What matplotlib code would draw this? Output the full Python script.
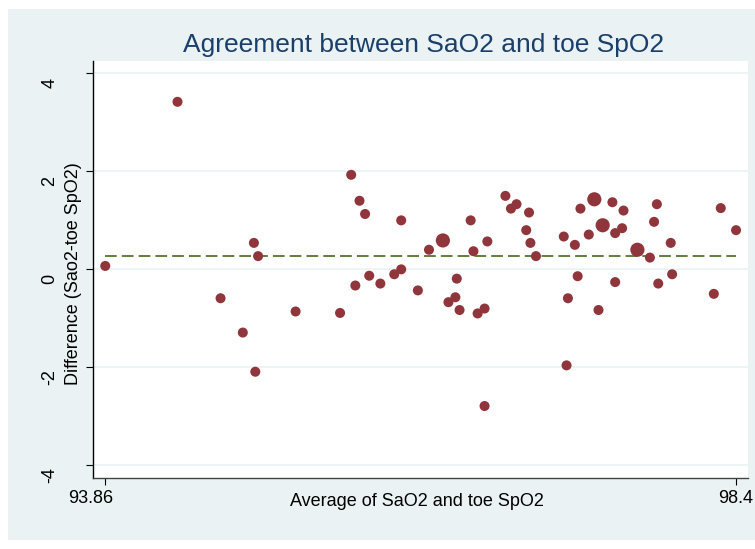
import matplotlib
matplotlib.use("Agg")
import matplotlib.pyplot as plt
import matplotlib.transforms as mtransforms
from matplotlib.patches import Rectangle

# Bland-Altman style: average vs difference, marker weight = number of obs
avg = [93.86, 94.38, 94.69, 94.85, 94.93, 94.94, 94.96, 95.23, 95.55, 95.63,
       95.66, 95.69, 95.73, 95.76, 95.84, 95.94, 95.99, 95.99, 96.11, 96.19,
       96.29, 96.33, 96.38, 96.39, 96.41, 96.49, 96.51, 96.54, 96.59, 96.59,
       96.61, 96.74, 96.78, 96.82, 96.89, 96.91, 96.92, 96.96, 97.16, 97.18,
       97.19, 97.24, 97.26, 97.28, 97.34, 97.38, 97.41, 97.44, 97.51, 97.53,
       97.53, 97.58, 97.59, 97.69, 97.78, 97.81, 97.83, 97.84, 97.93, 97.94,
       98.24, 98.29, 98.40]
diff = [0.07, 3.42, -0.59, -1.29, 0.54, -2.09, 0.27, -0.86, -0.89, 1.93,
        -0.33, 1.40, 1.13, -0.13, -0.29, -0.10, 0.00, 1.00, -0.43, 0.40,
        0.59, -0.67, -0.57, -0.19, -0.83, 1.00, 0.37, -0.90, -0.80, -2.79,
        0.57, 1.50, 1.24, 1.33, 0.80, 1.16, 0.54, 0.27, 0.67, -1.96,
        -0.59, 0.50, -0.14, 1.24, 0.71, 1.43, -0.83, 0.90, 1.37, 0.74,
        -0.26, 0.84, 1.20, 0.40, 0.24, 0.97, 1.33, -0.29, 0.54, -0.10,
        -0.50, 1.25, 0.80]
weight = [1] * len(avg)
for i, (a, d) in enumerate(zip(avg, diff)):
    if (a, d) in [(96.29, 0.59), (97.38, 1.43), (97.44, 0.90), (97.69, 0.40)]:
        weight[i] = 2
mean_diff = 0.28

yticks = [-4, -2, 0, 2, 4]
xticks = [93.86, 98.4]
xticklabels = ["93.86", "98.4"]

bg = "#EAF2F3"
W, H = 755, 549

plt.rcParams["font.family"] = ["Liberation Sans", "DejaVu Sans"]

fig = plt.figure(figsize=(W / 100, H / 100), dpi=100)
fig.patch.set_facecolor("white")
fig.patches.append(Rectangle((8 / W, 1 - 540 / H), (W - 8) / W, (540 - 9) / H,
                             transform=fig.transFigure, facecolor=bg,
                             edgecolor="none", zorder=-10))

left, right, top, bottom = 93.3, 748, 61, 477.7
ax = fig.add_axes([left / W, 1 - bottom / H, (right - left) / W, (bottom - top) / H])
ax.set_zorder(1)
ax.set_facecolor("white")

ax.scatter(avg, diff, s=[52 * w for w in weight], color="#90353B",
           linewidths=0, zorder=3)
ax.plot([min(avg), max(avg)], [mean_diff, mean_diff], color="#55752F",
        lw=1.3, dashes=(6.5, 2.8), zorder=2)

ax.set_xlim(93.774, 98.486)
ax.set_ylim(-4.253, 4.253)

for s in ["top", "right"]:
    ax.spines[s].set_visible(False)
ax.spines["left"].set_color("black")
ax.spines["bottom"].set_color("#444444")
ax.spines["left"].set_linewidth(1.0)
ax.spines["bottom"].set_linewidth(1.0)

ax.set_yticks(yticks)
ax.set_yticklabels([str(t) for t in yticks], rotation=90, va="center",
                   ha="right", fontsize=13)
ax.tick_params(axis="y", length=5, width=0.8, pad=20)
ax.grid(axis="y", color=bg, lw=1.2)
ax.set_axisbelow(True)

ax.set_xticks(xticks)
ax.set_xticklabels(xticklabels, fontsize=13)
ax.tick_params(axis="x", length=5, width=0.8, pad=4)

# Stata-like label placement: shift y labels down, first x label left
down = mtransforms.ScaledTranslation(0, -10 / 100, fig.dpi_scale_trans)
for lab in ax.get_yticklabels():
    lab.set_transform(lab.get_transform() + down)
xl = ax.get_xticklabels()
xl[0].set_transform(xl[0].get_transform() +
                    mtransforms.ScaledTranslation(-15 / 100, 0, fig.dpi_scale_trans))

ax.set_ylabel("Difference (Sao2-toe SpO2)", fontsize=13)
ax.yaxis.set_label_coords(-0.0173, 0.49)
ax.set_xlabel("Average of SaO2 and toe SpO2", fontsize=13)
ax.xaxis.set_label_coords(0.494, -0.036)

fig.text(424 / W, 1 - 45 / H, "Agreement between SaO2 and toe SpO2",
         ha="center", va="center", fontsize=19, color="#1A3F6A")

fig.savefig("out.png", dpi=100, facecolor=fig.get_facecolor())
